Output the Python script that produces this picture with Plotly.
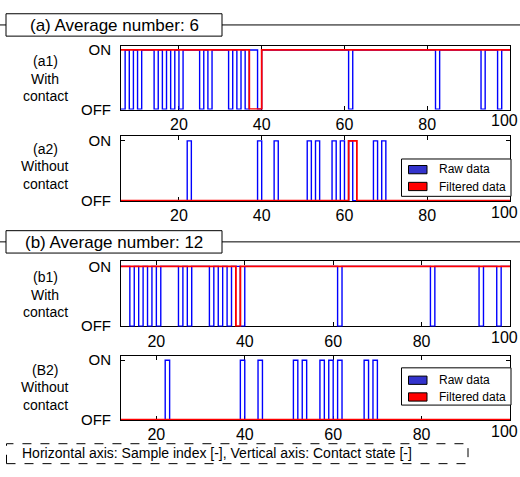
import plotly.graph_objects as go

W, H = 520, 477

# ---------------- data ----------------
samples = list(range(6, 101))
# raw contact state, "with contact" case (1 = ON, 0 = OFF); OFF samples
raw_with_off = [6, 8, 10, 14, 16, 18, 20, 25, 27, 32, 34, 36, 39, 61, 82, 93, 97]
# raw contact state, "without contact" case; ON samples
raw_without_on = [22, 39, 43, 51, 53, 57, 59, 61, 67, 69]
# filtered results
filt_a_with_off = [37, 38, 39]          # average number 6
filt_a_without_on = [61, 62]
filt_b_with_off = [38]                  # average number 12
filt_b_without_on = []

x_ticks = [20, 40, 60, 80, 100]
x_ticktext = ["20", "40", "60", "80", ""]   # "100" is drawn separately at the page edge
y_ticks = [0, 1]
y_ticktext = ["OFF", "ON"]

raw_with = [0 if s in raw_with_off else 1 for s in samples]
raw_without = [1 if s in raw_without_on else 0 for s in samples]
fa_with = [0 if s in filt_a_with_off else 1 for s in samples]
fa_without = [1 if s in filt_a_without_on else 0 for s in samples]
fb_with = [0 if s in filt_b_with_off else 1 for s in samples]
fb_without = [1 if s in filt_b_without_on else 0 for s in samples]

BLUE = "#0000FF"
RED = "#FF0000"
FONT = "Liberation Sans, Arial, sans-serif"

fig = go.Figure()

panels = [
    dict(top=42.5, bottom=107.5, on=46.5, xmin=6, raw=raw_with, filt=fa_with),
    dict(top=134.5, bottom=201.5, on=140.0, xmin=6, raw=raw_without, filt=fa_without),
    dict(top=263.5, bottom=330.5, on=269.0, xmin=12, raw=raw_with, filt=fb_with),
    dict(top=360.5, bottom=426.5, on=365.5, xmin=12, raw=raw_without, filt=fb_without),
]
XL, XR = 121, 510

def px2paper_y(p):
    return 1 - p / H

shapes = []
annotations = []

def ann(x, y, text, size, xanchor="center", yanchor="middle", family=FONT, **kw):
    d = dict(x=x / W, y=px2paper_y(y), xref="paper", yref="paper", text=text,
             showarrow=False, xanchor=xanchor, yanchor=yanchor,
             font=dict(family=family, size=size, color="black"))
    d.update(kw)
    annotations.append(d)

layout_axes = {}
for i, p in enumerate(panels, start=1):
    xa = "x" if i == 1 else f"x{i}"
    ya = "y" if i == 1 else f"y{i}"
    unit = p["bottom"] - p["on"]
    ymax = (p["bottom"] - p["top"]) / unit
    xs = [s for s in samples if s >= p["xmin"]]
    raw = [v for s, v in zip(samples, p["raw"]) if s >= p["xmin"]]
    flt = [v for s, v in zip(samples, p["filt"]) if s >= p["xmin"]]
    fig.add_trace(go.Scatter(x=xs, y=raw, mode="lines", line=dict(color=BLUE, width=1.4, shape="hv"),
                             xaxis=xa, yaxis=ya, showlegend=False))
    fig.add_trace(go.Scatter(x=xs, y=flt, mode="lines", line=dict(color=RED, width=1.8, shape="hv"),
                             xaxis=xa, yaxis=ya, showlegend=False))
    common = dict(showline=True, linecolor="black", linewidth=1, mirror="allticks",
                  ticks="inside", ticklen=4, tickcolor="black", showgrid=False, zeroline=False,
                  layer="below traces")
    layout_axes["xaxis" if i == 1 else f"xaxis{i}"] = dict(
        common, domain=[XL / W, XR / W], range=[p["xmin"], 100], anchor=ya,
        tickvals=x_ticks, ticktext=x_ticktext,
        tickfont=dict(family=FONT, size=16, color="black"))
    layout_axes["yaxis" if i == 1 else f"yaxis{i}"] = dict(
        common, domain=[px2paper_y(p["bottom"]), px2paper_y(p["top"])], range=[-0.005, ymax - 0.005],
        anchor=xa, tickvals=y_ticks, ticktext=y_ticktext, ticklabelstandoff=6,
        tickfont=dict(family=FONT, size=15, color="black"))
    # last tick label at the x value 100, right-aligned so it stays on the page
    annotations.append(dict(x=x_ticks[-1], y=0, xref=xa, yref=ya, text=str(x_ticks[-1]),
                            showarrow=False, xanchor="right", yanchor="top", yshift=-1, xshift=10,
                            font=dict(family=FONT, size=16, color="black")))

def rect(x0, y0, x1, y1, fill="white", line="black", width=1, dash=None):
    shapes.append(dict(type="rect", xref="paper", yref="paper", x0=x0 / W, x1=x1 / W,
                       y0=px2paper_y(y1), y1=px2paper_y(y0), fillcolor=fill,
                       line=dict(color=line, width=width, dash=dash), layer="above"))

def hline(x0, x1, y, width=1):
    shapes.append(dict(type="line", xref="paper", yref="paper", x0=x0 / W, x1=x1 / W,
                       y0=px2paper_y(y), y1=px2paper_y(y), line=dict(color="black", width=width),
                       layer="above"))

hline(0, W, 20.5)
rect(6, 9, 222, 32)
ann(114, 21, "(a) Average number: 6", 17)
hline(0, W, 243.5)
rect(6, 232, 222, 255)
ann(114, 244, "(b) Average number: 12", 17)

row_labels = [
    (["(a1)", "With", "contact"], 58),
    (["(a2)", "Without", "contact"], 148),
    (["(b1)", "With", "contact"], 280),
    (["(B2)", "Without", "contact"], 375),
]
for lines, y0 in row_labels:
    for k, t in enumerate(lines):
        ann(45, y0 + 18 * k, t, 14)

legend_pos = [(158.3, 196.7, 165.0, 182.3, 169.0, 187.3),
              (373.0, 411.3, 381.5, 398.7, 386.0, 403.0)]
for bt, bb, s1, s2, t1, t2 in legend_pos:
    rect(401.5, bt, 511, bb)
    rect(408.5, s1, 427, s1 + 8.5, fill="#3333CC")
    rect(408.5, s2, 427, s2 + 8.5, fill=RED)
    ann(437, t1, "Raw data", 12, xanchor="left")
    ann(437, t2, "Filtered data", 12, xanchor="left")

rect(6.5, 451, 468, 471.5, dash="dash")
ann(20, 461, "Horizontal axis: Sample index [-], Vertical axis: Contact state [-]", 14, xanchor="left")

fig.update_layout(width=W, height=H, margin=dict(l=0, r=0, t=0, b=0),
                  paper_bgcolor="white", plot_bgcolor="white", showlegend=False,
                  shapes=shapes, annotations=annotations, **layout_axes)

fig.write_html("out.html", config={"displayModeBar": False},
               post_script="document.body.style.margin='0';document.body.style.overflow='hidden';")
